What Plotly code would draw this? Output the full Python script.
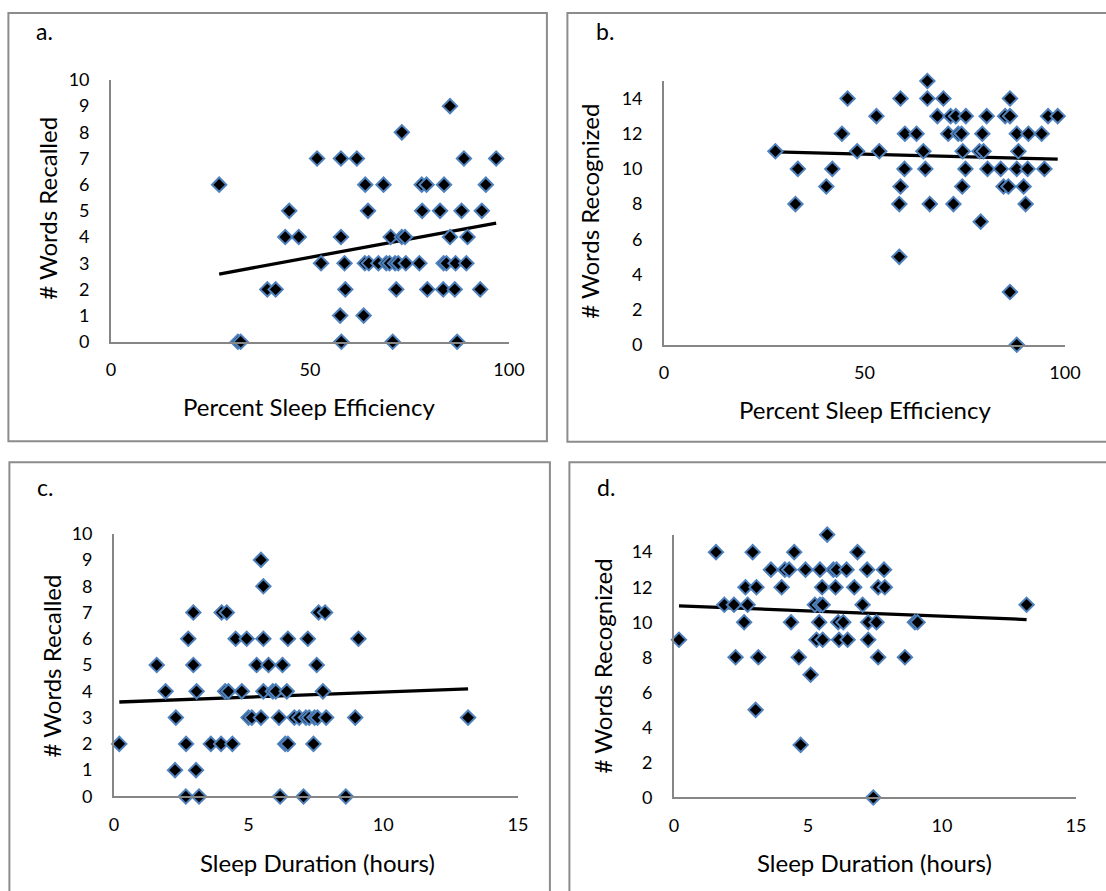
import numpy as np
import plotly.graph_objects as go

# ---------------- data ----------------
# Panel a: percent sleep efficiency vs words recalled
eff_a = [85.2,
         73.1,
         51.8, 57.8, 61.8, 88.7, 96.8,
         27.2, 63.9, 68.5, 78.1, 79.3, 83.7, 94.2,
         44.8, 64.6, 78.2, 82.7, 88.1, 93.2,
         43.8, 47.2, 57.8, 70.3, 73.1, 73.9, 85.2, 89.6,
         52.8, 58.7, 63.8, 64.8, 67.2, 69.2, 70.0, 71.4, 72.2, 74.1, 77.5, 83.6, 84.3, 86.6, 89.3,
         39.3, 41.4, 58.9, 71.7, 79.5, 83.5, 86.4, 92.8,
         57.6, 63.5,
         31.9, 32.6, 57.9, 70.8, 87.0]
rec_a = [9,
         8,
         7, 7, 7, 7, 7,
         6, 6, 6, 6, 6, 6, 6,
         5, 5, 5, 5, 5, 5,
         4, 4, 4, 4, 4, 4, 4, 4,
         3, 3, 3, 3, 3, 3, 3, 3, 3, 3, 3, 3, 3, 3, 3,
         2, 2, 2, 2, 2, 2, 2, 2,
         1, 1,
         0, 0, 0, 0, 0]

# Panel b: percent sleep efficiency vs words recognized
eff_b = [65.7,
         45.8, 59.0, 65.7, 69.7, 86.3,
         53.0, 68.2, 71.5, 72.8, 75.3, 80.5, 85.1, 86.3, 95.8, 98.2,
         44.4, 60.1, 63.0, 70.9, 73.4, 74.2, 79.4, 88.0, 90.9, 94.2,
         27.8, 48.2, 53.7, 64.7, 74.5, 78.7, 79.7, 88.4,
         33.4, 42.0, 60.0, 65.2, 75.2, 80.7, 84.0, 88.0, 90.7, 94.9,
         40.5, 59.0, 74.4, 84.7, 85.9, 89.7,
         32.8, 58.7, 66.3, 72.2, 90.2,
         79.0,
         58.7,
         86.3,
         88.0]
recog_b = [15,
           14, 14, 14, 14, 14,
           13, 13, 13, 13, 13, 13, 13, 13, 13, 13,
           12, 12, 12, 12, 12, 12, 12, 12, 12, 12,
           11, 11, 11, 11, 11, 11, 11, 11,
           10, 10, 10, 10, 10, 10, 10, 10, 10, 10,
           9, 9, 9, 9, 9, 9,
           8, 8, 8, 8, 8,
           7,
           5,
           3,
           0]

# Panel c: sleep duration vs words recalled
dur_c = [5.46,
         5.55,
         2.95, 4.00, 4.19, 7.60, 7.84,
         2.76, 4.52, 4.93, 5.55, 6.46, 7.20, 9.08,
         1.59, 2.95, 5.30, 5.74, 6.26, 7.53,
         1.92, 3.07, 4.13, 4.25, 4.75, 5.55, 5.90, 6.01, 6.42, 7.76,
         2.30, 5.00, 5.12, 5.46, 6.13, 6.70, 6.88, 7.13, 7.25, 7.45, 7.56, 7.88, 8.96, 13.15,
         0.20, 2.68, 3.60, 3.98, 4.40, 6.36, 6.46, 7.41,
         2.27, 3.05,
         2.67, 3.16, 6.17, 7.04, 8.61]
rec_c = [9,
         8,
         7, 7, 7, 7, 7,
         6, 6, 6, 6, 6, 6, 6,
         5, 5, 5, 5, 5, 5,
         4, 4, 4, 4, 4, 4, 4, 4, 4, 4,
         3, 3, 3, 3, 3, 3, 3, 3, 3, 3, 3, 3, 3, 3,
         2, 2, 2, 2, 2, 2, 2, 2,
         1, 1,
         0, 0, 0, 0, 0]

# Panel d: sleep duration vs words recognized
dur_d = [5.72,
         1.57, 2.94, 4.49, 6.85,
         3.62, 4.14, 4.30, 4.91, 5.45, 5.95, 6.07, 6.44, 7.21, 7.84,
         2.67, 3.08, 4.02, 5.53, 6.03, 6.73, 7.62, 7.87,
         1.88, 2.24, 2.75, 5.26, 5.45, 5.55, 7.04, 13.16,
         2.62, 4.37, 5.42, 6.13, 6.32, 7.25, 7.56, 8.99, 9.09,
         0.19, 5.32, 5.55, 6.16, 6.48, 7.25,
         2.30, 3.15, 4.66, 7.62, 8.62,
         5.10,
         3.05,
         4.73,
         7.44]
recog_d = [15,
           14, 14, 14, 14,
           13, 13, 13, 13, 13, 13, 13, 13, 13, 13,
           12, 12, 12, 12, 12, 12, 12, 12,
           11, 11, 11, 11, 11, 11, 11, 11,
           10, 10, 10, 10, 10, 10, 10, 10, 10,
           9, 9, 9, 9, 9, 9,
           8, 8, 8, 8, 8,
           7,
           5,
           3,
           0]

panel_letters = ["a.", "b.", "c.", "d."]
x_titles = ["Percent Sleep Efficiency", "Percent Sleep Efficiency",
            "Sleep Duration (hours)", "Sleep Duration (hours)"]
y_titles = ["# Words Recalled", "# Words Recognized",
            "# Words Recalled", "# Words Recognized"]

# ---------------- figure ----------------
W, H = 1106, 891
FONT = "Lato, Carlito, Calibri, 'Open Sans', sans-serif"
AXIS_GREY = "#868686"
BORDER_GREY = "#8c8c8c"

# mapping from target picture pixels to figure pixels (compensates the capture)
SX, OX = 0.981, 5.1
SY, OY = 0.976, 11.0


def fx(tx):
    return (tx - OX) / SX


def fy(ty):
    return (ty - OY) / SY


def px(tx):
    return fx(tx) / W


def py(ty):
    return 1 - fy(ty) / H


panels = [
    dict(x=eff_a, y=rec_a, xr=[0, 100], xd=(111, 509), yr=[0, 10], yd=(341, 79),
         xt=[0, 50, 100], yt=list(range(0, 11))),
    dict(x=eff_b, y=recog_b, xr=[0, 100], xd=(664, 1065), yr=[0, 15], yd=(344, 80),
         xt=[0, 50, 100], yt=list(range(0, 15, 2))),
    dict(x=dur_c, y=rec_c, xr=[0, 15], xd=(114, 518), yr=[0, 10], yd=(796, 533),
         xt=[0, 5, 10, 15], yt=list(range(0, 11))),
    dict(x=dur_d, y=recog_d, xr=[0, 15], xd=(674, 1076), yr=[0, 15], yd=(797, 534),
         xt=[0, 5, 10, 15], yt=list(range(0, 15, 2))),
]

fig = go.Figure()
layout_axes = {}
for i, p in enumerate(panels):
    n = "" if i == 0 else str(i + 1)
    xa, ya = "x" + n, "y" + n
    xs = np.array(p["x"], dtype=float)
    ys = np.array(p["y"], dtype=float)
    slope, icpt = np.polyfit(xs, ys, 1)
    lx = np.array([xs.min(), xs.max()])
    fig.add_trace(go.Scatter(x=lx, y=slope * lx + icpt, mode="lines",
                             line=dict(color="black", width=3.3),
                             xaxis=xa, yaxis=ya, showlegend=False, hoverinfo="skip"))
    fig.add_trace(go.Scatter(x=xs, y=ys, mode="markers",
                             marker=dict(symbol="diamond", size=11, color="black",
                                         line=dict(color="#4f81bd", width=2)),
                             xaxis=xa, yaxis=ya, showlegend=False, cliponaxis=False))
    common = dict(showgrid=False, zeroline=False, showline=True, linecolor=AXIS_GREY,
                  linewidth=1.5, ticks="", tickfont=dict(family=FONT, size=18, color="black"),
                  fixedrange=True)
    layout_axes["xaxis" + n] = dict(common, range=p["xr"], tickvals=p["xt"],
                                    domain=[px(p["xd"][0]), px(p["xd"][1])],
                                    anchor=ya, ticklabelstandoff=11)
    layout_axes["yaxis" + n] = dict(common, range=p["yr"], tickvals=p["yt"],
                                    domain=[py(p["yd"][0]), py(p["yd"][1])],
                                    anchor=xa, ticklabelstandoff=16)

fig.update_layout(**layout_axes)

# panel borders, in figure pixels (top edges kept just inside the figure)
boxes = [(fx(8.5), 1, fx(547), fy(440.5)),
         (fx(567.5), 1, fx(1106) + 20, fy(441)),
         (fx(9.5), fy(461.5), fx(550), fy(905)),
         (fx(569.5), fy(461.5), fx(1106) + 20, fy(905))]
for (x0, y0, x1, y1) in boxes:
    fig.add_shape(type="rect", xref="paper", yref="paper",
                  x0=x0 / W, x1=x1 / W, y0=1 - y0 / H, y1=1 - y1 / H,
                  line=dict(color=BORDER_GREY, width=2), fillcolor="rgba(0,0,0,0)")

# text annotations (target pixel centres)
letter_pos = [(45, 30), (605, 30), (45, 486), (606, 486)]
xt_pos = [(309, 406), (865, 409), (318, 862), (875, 862)]
yt_pos = [(48, 207), (590, 210), (52, 665), (603, 665)]
ann = []
for i in range(4):
    ann.append(dict(text=panel_letters[i], x=px(letter_pos[i][0]), y=py(letter_pos[i][1]),
                    xref="paper", yref="paper", showarrow=False,
                    xanchor="center", yanchor="middle",
                    font=dict(family=FONT, size=23, color="black")))
    ann.append(dict(text=x_titles[i], x=px(xt_pos[i][0]), y=py(xt_pos[i][1]),
                    xref="paper", yref="paper", showarrow=False,
                    xanchor="center", yanchor="middle",
                    font=dict(family=FONT, size=24, color="black")))
    ann.append(dict(text=y_titles[i], x=px(yt_pos[i][0]), y=py(yt_pos[i][1]),
                    xref="paper", yref="paper", showarrow=False, textangle=-90,
                    xanchor="center", yanchor="middle",
                    font=dict(family=FONT, size=24, color="black")))

fig.update_layout(width=W, height=H, margin=dict(l=0, r=0, t=0, b=0),
                  paper_bgcolor="white", plot_bgcolor="white",
                  annotations=ann, showlegend=False)

# remove the default page margin so the figure fills the window exactly
fig.write_html("out.html", config={"displayModeBar": False},
               post_script="document.body.style.margin='0';"
                           "document.body.style.overflow='hidden';"
                           "document.documentElement.style.overflow='hidden';")
